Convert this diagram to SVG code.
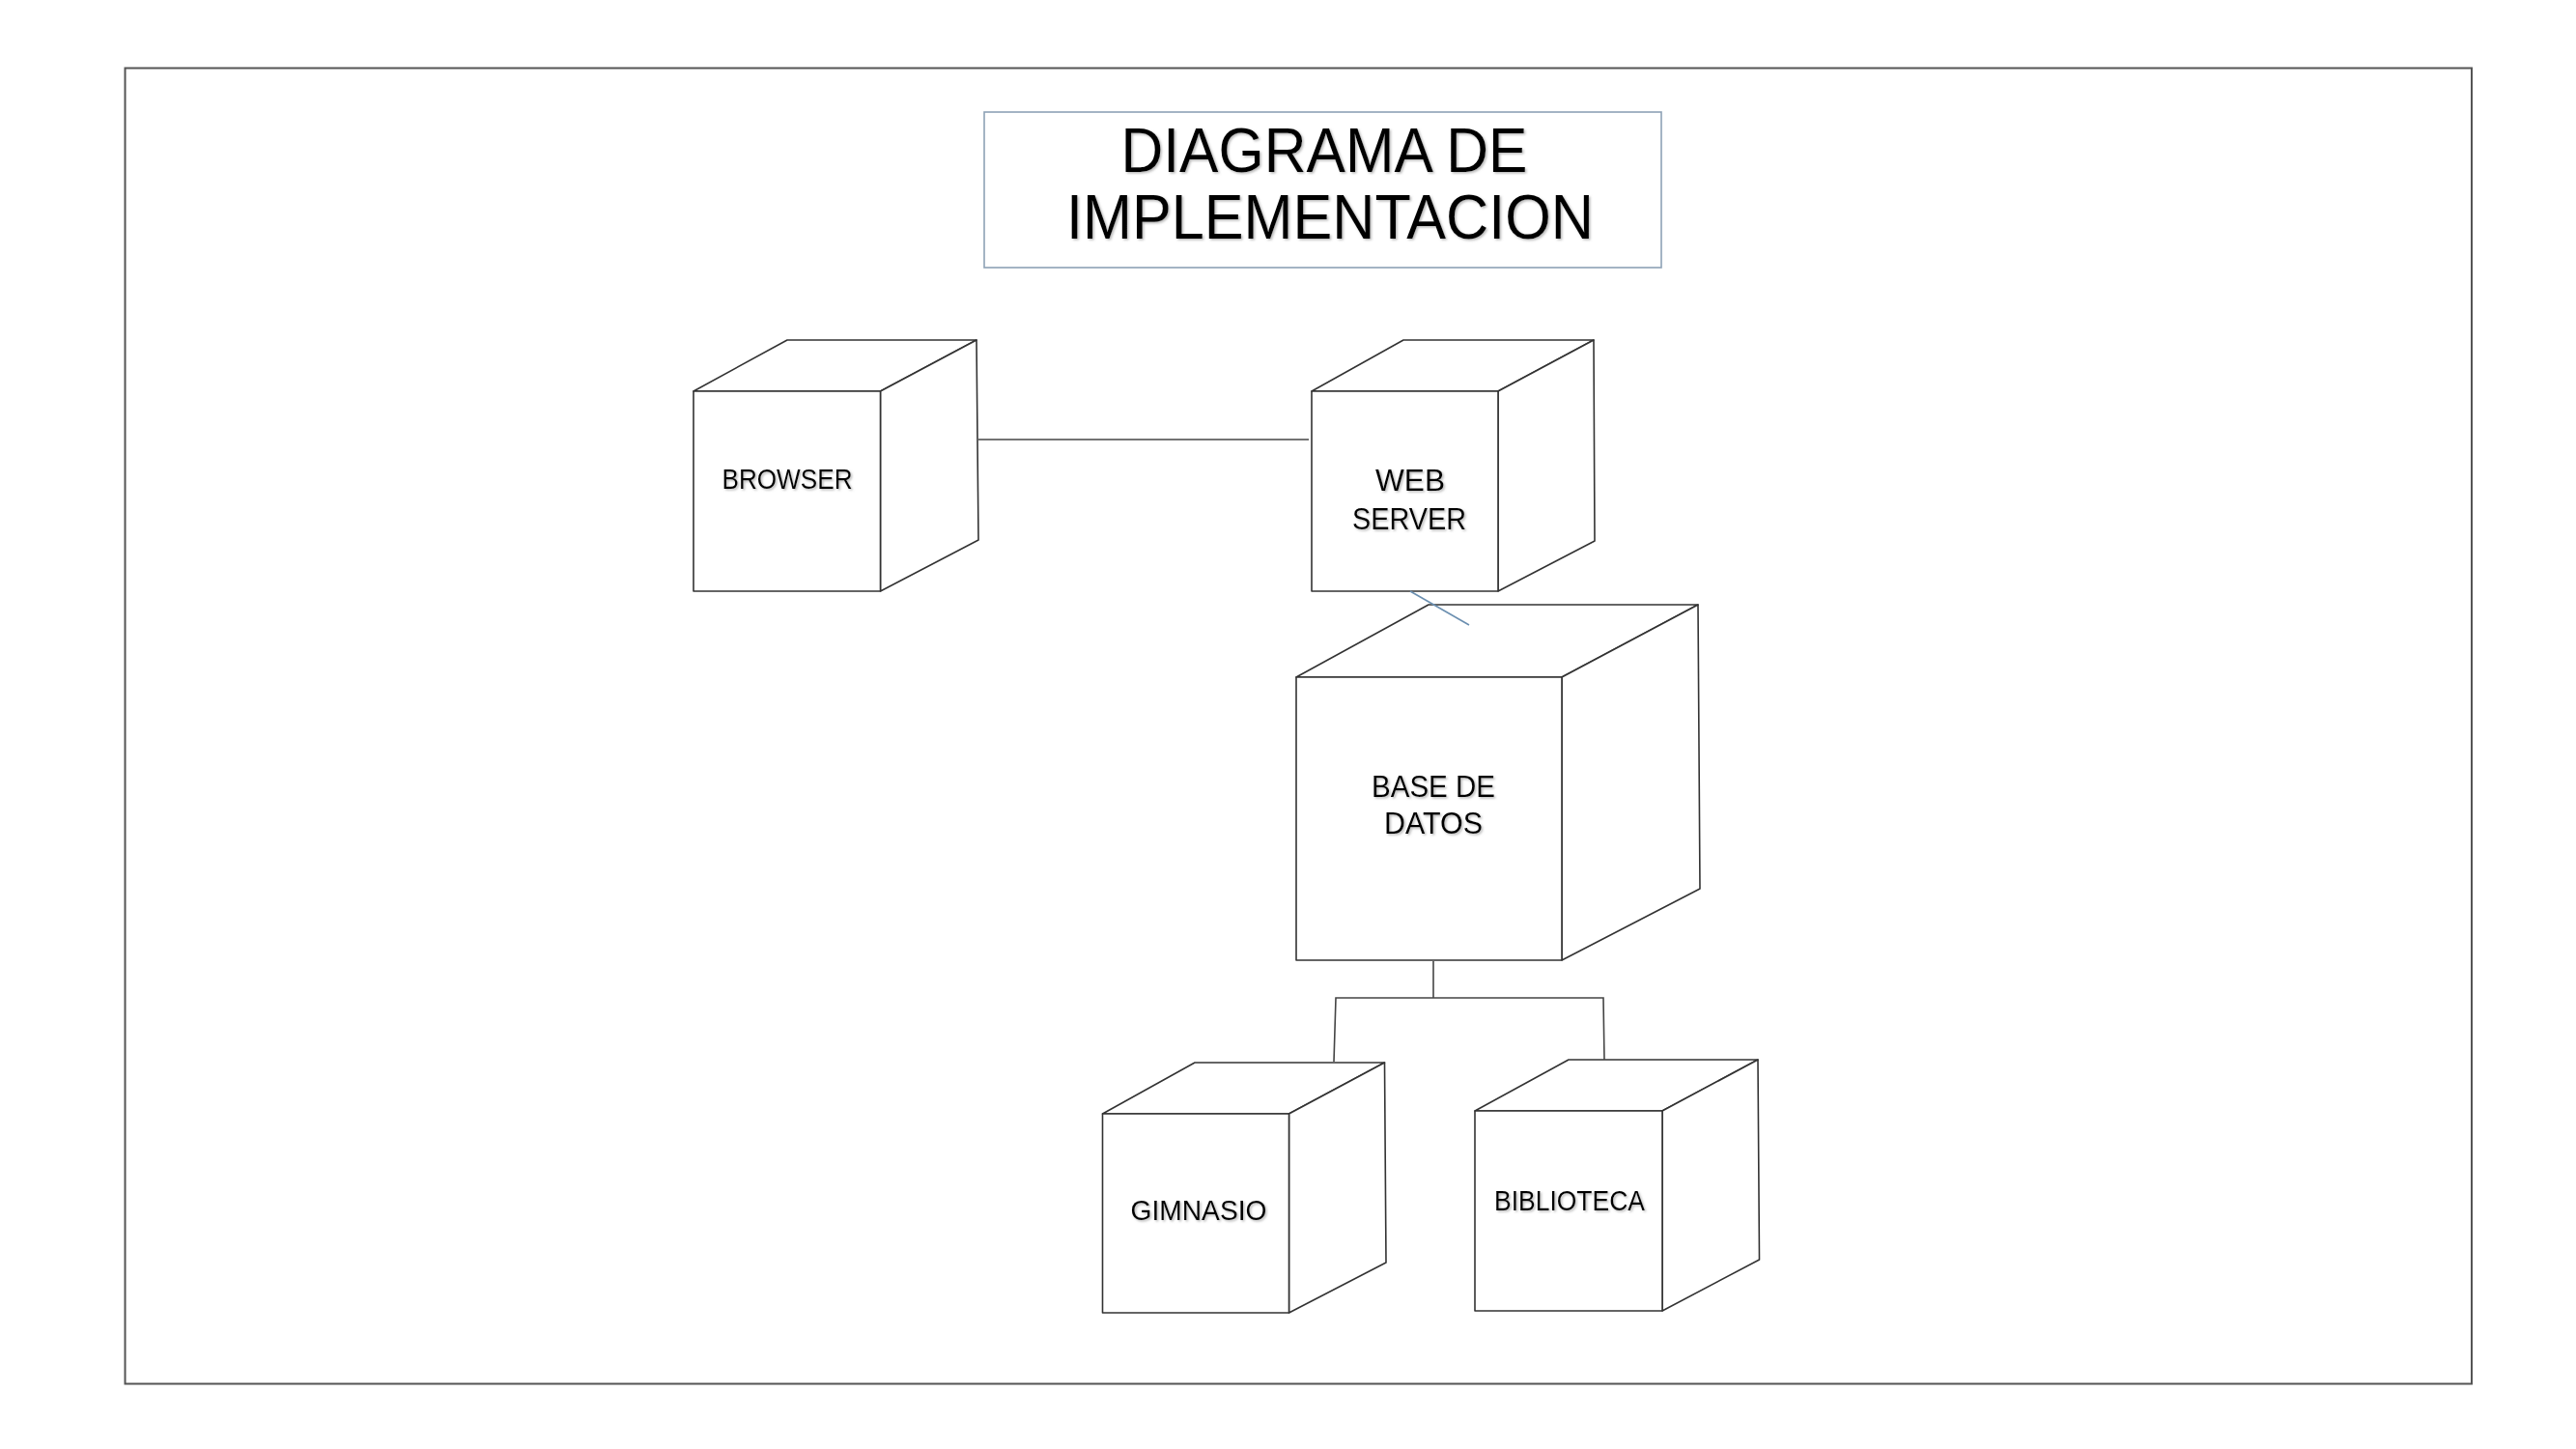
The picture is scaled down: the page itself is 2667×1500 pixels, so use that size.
<svg xmlns="http://www.w3.org/2000/svg" width="2667" height="1500" viewBox="0 0 2667 1500">
<defs>
<filter id="sh" x="-10%" y="-30%" width="120%" height="160%">
<feDropShadow dx="1.5" dy="1.5" stdDeviation="1" flood-color="#888" flood-opacity="0.6"/>
</filter>
</defs>
<style>
.cube{fill:#fff;stroke:#333;stroke-width:1.6;stroke-linejoin:round}
.lbl{font-family:"Liberation Sans",Arial,sans-serif;fill:#000;text-anchor:middle;filter:url(#sh)}
.title{font-family:"Liberation Sans",Arial,sans-serif;font-size:64px;fill:#000;text-anchor:middle;filter:url(#sh)}
.conn{fill:none;stroke:#444;stroke-width:1.6}
</style>
<rect width="2667" height="1500" fill="#fff"/>
<rect x="129.5" y="70.5" width="2429.5" height="1362" fill="none" stroke="#555" stroke-width="2"/>
<g id="title">
<rect x="1019" y="116" width="701" height="161" fill="#fff" stroke="#8ea2b6" stroke-width="1.6"/>
<text class="title" x="1371" y="178" textLength="421" lengthAdjust="spacingAndGlyphs">DIAGRAMA DE</text>
<text class="title" x="1377" y="247" textLength="546" lengthAdjust="spacingAndGlyphs">IMPLEMENTACION</text>
</g>
<g id="browser">
<path class="cube" d="M718,405 L815,352 L1011,352 L911.5,405 Z"/>
<path class="cube" d="M911.5,405 L1011,352 L1013,559 L911.5,612 Z"/>
<rect class="cube" x="718" y="405" width="193.5" height="207"/>
<text class="lbl" x="815" y="506" font-size="29" textLength="135" lengthAdjust="spacingAndGlyphs">BROWSER</text>
</g>
<g id="webserver">
<path class="cube" d="M1358,405 L1453,352 L1650,352 L1551,405 Z"/>
<path class="cube" d="M1551,405 L1650,352 L1651,560 L1551,612 Z"/>
<rect class="cube" x="1358" y="405" width="193" height="207"/>
<text class="lbl" x="1460" y="508" font-size="31" textLength="72" lengthAdjust="spacingAndGlyphs">WEB</text>
<text class="lbl" x="1459" y="548" font-size="31" textLength="118" lengthAdjust="spacingAndGlyphs">SERVER</text>
</g>
<g id="basedatos">
<path class="cube" d="M1342,701 L1479,626 L1758,626 L1617,701 Z"/>
<path class="cube" d="M1617,701 L1758,626 L1760,920 L1617,994 Z"/>
<rect class="cube" x="1342" y="701" width="275" height="293"/>
<text class="lbl" x="1484" y="825" font-size="32" textLength="128" lengthAdjust="spacingAndGlyphs">BASE DE</text>
<text class="lbl" x="1484" y="863" font-size="32" textLength="102" lengthAdjust="spacingAndGlyphs">DATOS</text>
</g>
<g id="gimnasio">
<path class="cube" d="M1141.5,1153 L1237,1100 L1433.5,1100 L1334.5,1153 Z"/>
<path class="cube" d="M1334.5,1153 L1433.5,1100 L1435,1307 L1334.5,1359 Z"/>
<rect class="cube" x="1141.5" y="1153" width="193" height="206"/>
<text class="lbl" x="1241" y="1263" font-size="29" textLength="141" lengthAdjust="spacingAndGlyphs">GIMNASIO</text>
</g>
<g id="biblioteca">
<path class="cube" d="M1527,1150 L1624,1097 L1820,1097 L1721,1150 Z"/>
<path class="cube" d="M1721,1150 L1820,1097 L1821.5,1304 L1721,1357 Z"/>
<rect class="cube" x="1527" y="1150" width="194" height="207"/>
<text class="lbl" x="1625" y="1253" font-size="29" textLength="156" lengthAdjust="spacingAndGlyphs">BIBLIOTECA</text>
</g>
<g id="connectors">
<line class="conn" x1="1013" y1="455" x2="1355" y2="455"/>
<line x1="1460" y1="612" x2="1521" y2="647" stroke="#6b8fb0" stroke-width="1.6"/>
<polyline class="conn" points="1484,995 1484,1033"/>
<polyline class="conn" points="1381,1099 1383,1033 1660,1033 1661,1097"/>
</g>
</svg>
